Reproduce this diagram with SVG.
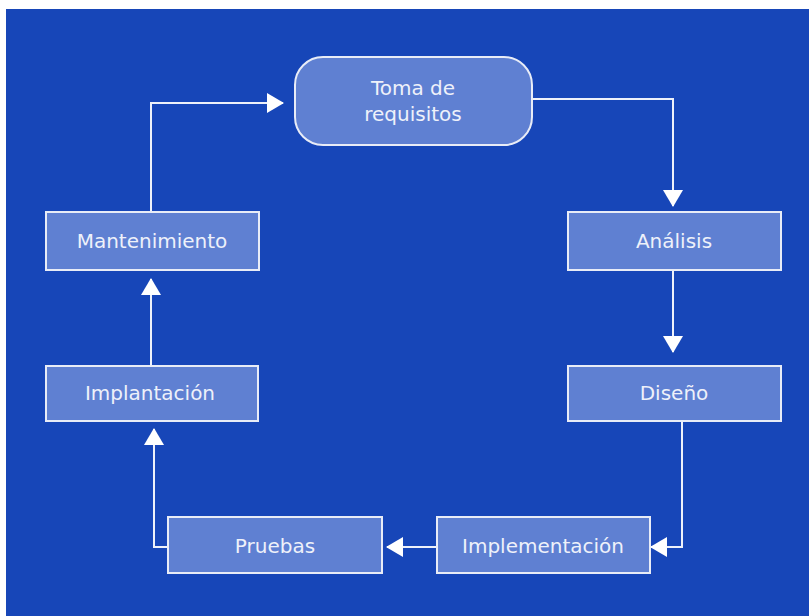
<svg xmlns="http://www.w3.org/2000/svg" width="809" height="616" viewBox="0 0 809 616">
  <style>
    .node { fill: #5f80d2; stroke: #e8ecf7; stroke-width: 2; }
    .label { font-family: "DejaVu Sans", "Liberation Sans", sans-serif; font-size: 20px; fill: #eef1fa; text-anchor: middle; }
    .edge { fill: none; stroke: #eef1fa; stroke-width: 2; }
  </style>
  <defs>
    <marker id="arrow" markerUnits="userSpaceOnUse" markerWidth="17" markerHeight="20" refX="16" refY="10" orient="auto" viewBox="0 0 17 20">
      <path d="M0,0 L17,10 L0,20 Z" fill="#ffffff"/>
    </marker>
  </defs>
  <rect x="0" y="0" width="809" height="616" fill="#ffffff"/>
  <rect x="6" y="9" width="803" height="607" fill="#1746b8"/>

  <g id="connectors">
    <path class="edge" d="M532,99 H673 V206" marker-end="url(#arrow)"/>
    <path class="edge" d="M673,270 V352" marker-end="url(#arrow)"/>
    <path class="edge" d="M682,421 V547 H651" marker-end="url(#arrow)"/>
    <path class="edge" d="M437,547 H387" marker-end="url(#arrow)"/>
    <path class="edge" d="M168,547 H154 V429" marker-end="url(#arrow)"/>
    <path class="edge" d="M151,366 V279" marker-end="url(#arrow)"/>
    <path class="edge" d="M151,212 V103 H283" marker-end="url(#arrow)"/>
  </g>

  <g id="toma">
    <rect class="node" x="295" y="57" width="237" height="88" rx="28" ry="28"/>
    <text class="label" x="413" y="95">Toma de</text>
    <text class="label" x="413" y="121">requisitos</text>
  </g>
  <g id="analisis">
    <rect class="node" x="568" y="212" width="213" height="58"/>
    <text class="label" x="674" y="248">Análisis</text>
  </g>
  <g id="diseno">
    <rect class="node" x="568" y="366" width="213" height="55"/>
    <text class="label" x="674" y="400">Diseño</text>
  </g>
  <g id="implementacion">
    <rect class="node" x="437" y="517" width="213" height="56"/>
    <text class="label" x="543" y="553">Implementación</text>
  </g>
  <g id="pruebas">
    <rect class="node" x="168" y="517" width="214" height="56"/>
    <text class="label" x="275" y="553">Pruebas</text>
  </g>
  <g id="implantacion">
    <rect class="node" x="46" y="366" width="212" height="55"/>
    <text class="label" x="150" y="400">Implantación</text>
  </g>
  <g id="mantenimiento">
    <rect class="node" x="46" y="212" width="213" height="58"/>
    <text class="label" x="152" y="248">Mantenimiento</text>
  </g>
</svg>
